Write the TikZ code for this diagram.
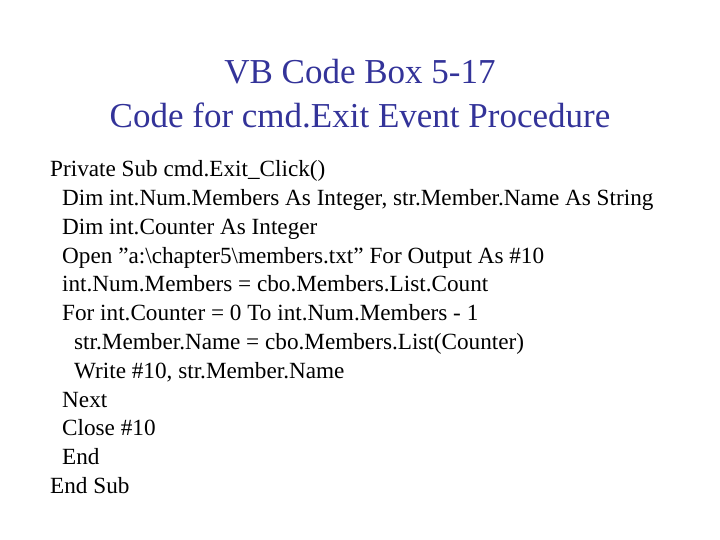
\documentclass[tikz,border=0pt]{standalone}
\usepackage{fontspec}
\setmainfont{Liberation Serif}
\definecolor{titleblue}{RGB}{51,51,153}
\begin{document}
\begin{tikzpicture}[x=1pt,y=1pt,
  ttl/.style={anchor=base,text=titleblue,font=\fontsize{35}{40}\selectfont,inner sep=0},
  code/.style={anchor=base west,font=\fontsize{23.2}{26}\selectfont,inner sep=0}]
\useasboundingbox (0,0) rectangle (720,540);
\node[ttl] (t1) at (360,540-84) {VB Code Box 5-17};
\node[ttl] (t2) at (360,540-128) {Code for cmd.Exit Event Procedure};
\node[code] (l1) at (50,540-177) {Private Sub cmd.Exit\_Click()};
\node[code] (l2) at (62,540-206) {Dim int.Num.Members As Integer, str.Member.Name As String};
\node[code] (l3) at (62,540-235) {Dim int.Counter As Integer};
\node[code] (l4) at (62,540-264) {Open \char34 a:\textbackslash chapter5\textbackslash members.txt\char34{} For Output As \#10};
\node[code] (l5) at (62,540-292) {int.Num.Members = cbo.Members.List.Count};
\node[code] (l6) at (62,540-321) {For int.Counter = 0 To int.Num.Members - 1};
\node[code] (l7) at (74,540-350) {str.Member.Name = cbo.Members.List(Counter)};
\node[code] (l8) at (74,540-379) {Write \#10, str.Member.Name};
\node[code] (l9) at (62,540-408) {Next};
\node[code] (l10) at (62,540-436) {Close \#10};
\node[code] (l11) at (62,540-465) {End};
\node[code] (l12) at (50,540-494) {End Sub};
\end{tikzpicture}
\end{document}
